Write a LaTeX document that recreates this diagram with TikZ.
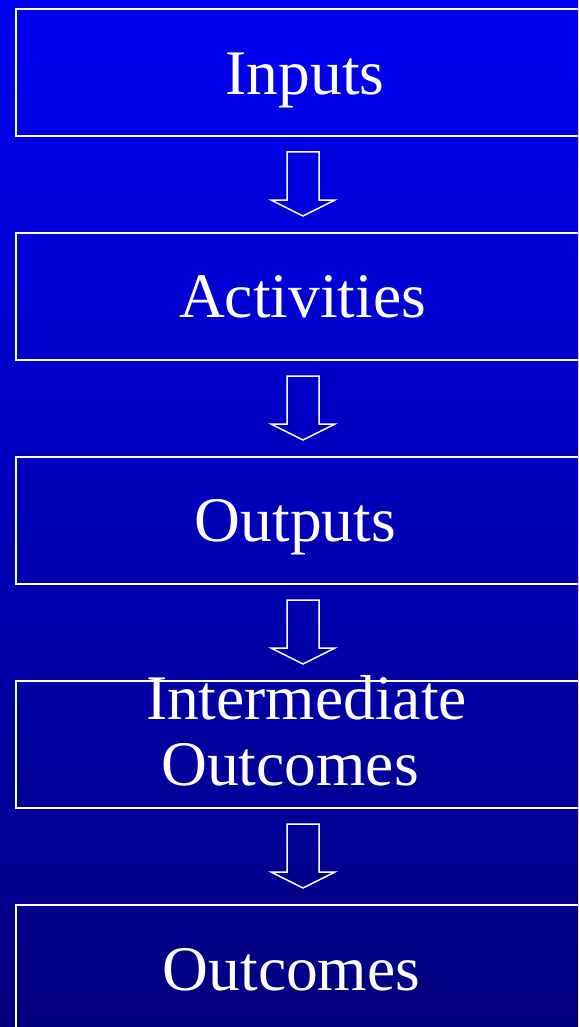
\documentclass[tikz,border=0pt]{standalone}
\usepackage{fontspec}
\setmainfont{Liberation Serif}
\definecolor{topblue}{RGB}{0,0,242}
\definecolor{botblue}{RGB}{0,0,126}
\begin{document}
\begin{tikzpicture}[x=1pt,y=-1pt,
  stagebox/.style={draw=white,line width=2pt,inner sep=0pt,anchor=north west,minimum width=580pt,minimum height=127pt},
  label/.style={text=white,font=\fontsize{63.5}{66}\selectfont,inner sep=0pt,anchor=base,align=center},
  blockarrow/.style={draw=white,line width=1.5pt,line join=miter}]
\useasboundingbox (0,0) rectangle (578,1027);
\clip (0,0) rectangle (578,1027);
\fill[top color=topblue,bottom color=botblue] (0,0) rectangle (578,1027);
\node[stagebox] (b1) at (15,8) {};
\node[stagebox] (b2) at (15,232) {};
\node[stagebox] (b3) at (15,456) {};
\node[stagebox] (b4) at (15,680) {};
\node[stagebox] (b5) at (15,904) {};
\node[label] (t1) at (305,95) {Inputs};
\node[label] (t2) at (302.5,317) {Activities};
\node[label] (t3) at (295.5,541) {Outputs};
\node[label,anchor=base] (t4a) at (306.5,719) {Intermediate};
\node[label,anchor=base] (t4b) at (290,785) {Outcomes};
\node[label] (t5) at (291.5,990) {Outcomes};
\foreach \i in {0,1,2,3}{
  \draw[blockarrow] (287,152+224*\i) -- (319,152+224*\i) -- (319,200+224*\i) -- (335,200+224*\i)
     -- (303,216+224*\i) -- (271,200+224*\i) -- (287,200+224*\i) -- cycle;
}
\end{tikzpicture}
\end{document}
